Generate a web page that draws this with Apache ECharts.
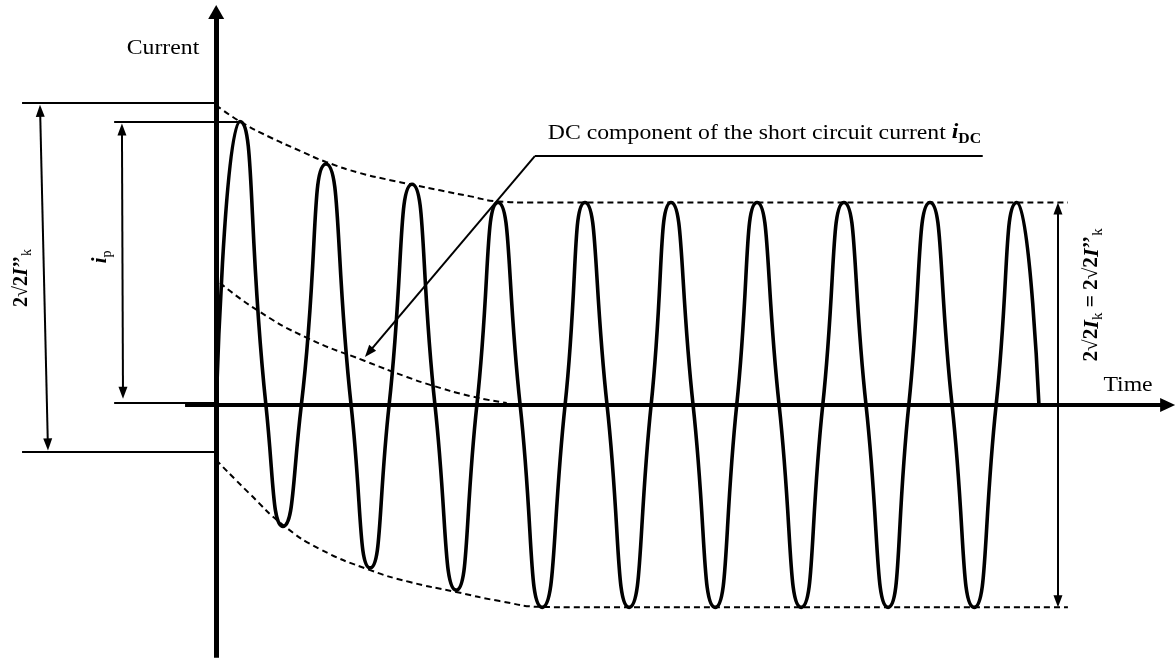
<!DOCTYPE html>
<html>
<head>
<meta charset="utf-8">
<script src="https://cdn.jsdelivr.net/npm/echarts@6/dist/echarts.min.js"></script>
<style>
  html, body { margin: 0; padding: 0; background: #fff; }
  #chart { width: 1176px; height: 662px; }
</style>
</head>
<body>
<div id="chart"></div>
<script>
// Short-circuit current after fault inception.
// Time in ms (50 Hz supply), current in per-unit of the steady-state peak 2√2·Ik.

// Waveform: start, then alternating peaks / zero crossings / troughs
const timeMs = [0, 5.5, 11.5, 15.45, 19.7, 25.4, 31.2, 35.6, 40.0, 45.3, 50.6, 55.5, 60.3,
  65.2, 70.3, 75.4, 80.7, 85.3, 90.4, 95.5, 100.6, 105.2, 110.3, 115.4, 120.4,
  125.1, 130.2, 135.3, 140.3, 145.2, 150.3, 155.4, 160.2, 165.1, 170.2, 175.3, 180.4,
  185.2, 190.3];
const currentPu = [0, 1.40, 0, -0.60, 0, 1.19, 0, -0.805, 0, 1.09, 0, -0.915, 0,
  1.0, 0, -1.0, 0, 1.0, 0, -1.0, 0, 1.0, 0, -1.0, 0,
  1.0, 0, -1.0, 0, 1.0, 0, -1.0, 0, 1.0, 0, -1.0, 0,
  1.0, 0];

// Upper and lower envelopes
const upperEnvT = [0, 5.5, 12.45, 19.4, 25.4, 33.3, 40.3, 45.3, 51.8, 58.8, 65.2, 72.6, 197];
const upperEnvI = [1.48, 1.40, 1.322, 1.255, 1.200, 1.145, 1.11, 1.088, 1.06, 1.03, 1.005, 1.0, 1.0];
const lowerEnvT = [0, 7.8, 15.45, 24.0, 35.6, 44.8, 55.5, 65.6, 75.4, 84.1, 197];
const lowerEnvI = [-0.272, -0.44, -0.593, -0.712, -0.816, -0.875, -0.924, -0.969, -0.998, -1.0, -1.0];

// Decaying DC component i_DC
const dcT = [0.9, 9.4, 21.0, 34.4, 44.1, 49.5, 58.7, 67.2];
const dcI = [0.602, 0.469, 0.331, 0.217, 0.138, 0.099, 0.044, 0.009];

// Reference levels for the dimension arrows
const initialTop = 1.49;        // top of 2√2 I''k span
const initialBottom = -0.233;   // bottom of 2√2 I''k span
const peakIp = currentPu[1];    // peak short-circuit current ip
const steadyPeak = 1.0;         // steady-state peak

const X_MIN = -50, X_MAX = 222, Y_MIN = -1.27, Y_MAX = 2.0;
const W = 1176, H = 662;
const PX_X = W / (X_MAX - X_MIN), PX_Y = H / (Y_MAX - Y_MIN);
const SERIF = '"Liberation Serif", "Times New Roman", serif';
const INK = '#000';

const zip = (xs, ys) => xs.map((x, k) => [x, ys[k]]);

// pull an arrow end inward so the triangle tip lands on the end point
function inset(from, to, pixels) {
  const dx = (to[0] - from[0]) * PX_X, dy = (to[1] - from[1]) * PX_Y;
  const len = Math.hypot(dx, dy) || 1;
  return [to[0] - dx / len * pixels / PX_X, to[1] - dy / len * pixels / PX_Y];
}

// one straight segment for markLine, optional arrow heads
function seg(a, b, width, startArrow, endArrow, arrowSize) {
  const size = arrowSize || [9, 12];
  const half = size[1] / 2;
  const p0 = startArrow ? inset(b, a, half) : a;
  const p1 = endArrow ? inset(a, b, half) : b;
  return [
    { coord: p0, symbol: startArrow ? 'triangle' : 'none', symbolSize: size, lineStyle: { width: width, color: INK, type: 'solid' } },
    { coord: p1, symbol: endArrow ? 'triangle' : 'none', symbolSize: size }
  ];
}

const chart = echarts.init(document.getElementById('chart'), null, { renderer: 'canvas' });

const dashed = { color: INK, width: 2, type: [6, 4] };

const envelope = (name, xs, ys) => ({
  name: name,
  type: 'line',
  data: zip(xs, ys),
  smooth: 0.5,
  showSymbol: false,
  silent: true,
  lineStyle: dashed
});

const option = {
  animation: false,
  backgroundColor: '#fff',
  grid: { left: 0, right: 0, top: 0, bottom: 0, containLabel: false },
  xAxis: { type: 'value', min: X_MIN, max: X_MAX, show: false },
  yAxis: { type: 'value', min: Y_MIN, max: Y_MAX, show: false },
  series: [
    {
      name: 'axes and dimensions',
      type: 'line',
      data: [],
      silent: true,
      markLine: {
        silent: true,
        animation: false,
        label: { show: false },
        emphasis: { disabled: true },
        symbol: ['none', 'none'],
        itemStyle: { color: INK },
        data: [
          // current axis
          seg([0, -1.249], [0, 1.975], 5, false, true, [16, 14]),
          // time axis
          seg([-7.2, 0], [221.8, 0], 4, false, true, [14, 15]),
          // base line under the ip arrow
          seg([-23.6, 0.01], [0, 0.01], 2, false, false),
          // initial peak-to-peak reference lines
          seg([-44.9, initialTop], [0, initialTop], 2, false, false),
          seg([-44.9, initialBottom], [0, initialBottom], 2, false, false),
          // ip level
          seg([-23.6, peakIp], [timeMs[1], peakIp], 2, false, false),
          // 2√2 I''k arrow
          seg([-40.75, initialTop - 0.008], [-38.9, initialBottom + 0.008], 2, true, true),
          // ip arrow
          seg([-21.8, peakIp - 0.01], [-21.55, 0.03], 2, true, true),
          // steady-state peak-to-peak arrow
          seg([194.7, steadyPeak], [194.7, -steadyPeak], 2, true, true),
          // DC component callout
          seg([73.7, 1.229], [177.3, 1.229], 2, false, false),
          seg([73.7, 1.229], [34.4, 0.237], 2, false, true)
        ]
      }
    },
    envelope('upper envelope', upperEnvT, upperEnvI),
    envelope('lower envelope', lowerEnvT, lowerEnvI),
    envelope('i_DC', dcT, dcI),
    {
      name: 'short-circuit current',
      type: 'line',
      data: zip(timeMs, currentPu),
      smooth: 0.6,
      showSymbol: false,
      silent: true,
      lineStyle: { color: INK, width: 3.6 }
    }
  ]
};

chart.setOption(option);

// text labels anchored in data coordinates
const px = (t, i) => chart.convertToPixel({ gridIndex: 0 }, [t, i]);

const rich = {
  n: { fontFamily: SERIF, fontSize: 20, fontWeight: 'bold', fill: INK, verticalAlign: 'middle', lineHeight: 26 },
  r: { fontFamily: SERIF, fontSize: 21, fill: INK, verticalAlign: 'middle', lineHeight: 26 },
  bi: { fontFamily: SERIF, fontSize: 21, fontWeight: 'bold', fontStyle: 'italic', fill: INK, verticalAlign: 'middle', lineHeight: 26 },
  s: { fontFamily: SERIF, fontSize: 14, fill: INK, verticalAlign: 'bottom', lineHeight: 14 },
  sb: { fontFamily: SERIF, fontSize: 14, fontWeight: 'bold', fill: INK, verticalAlign: 'bottom', lineHeight: 14 }
};

function label(t, i, text, opts) {
  const o = opts || {};
  const p = px(t, i);
  return {
    type: 'text',
    x: p[0], y: p[1],
    rotation: o.rotation || 0,
    scaleX: o.scaleX || 1,
    scaleY: o.scaleY || 1,
    silent: true,
    style: {
      text: text,
      rich: rich,
      font: '20px ' + SERIF,
      fill: INK,
      align: o.align || 'center',
      verticalAlign: 'middle'
    }
  };
}

const WIDE = 1.13;  // horizontal labels are set slightly wide
chart.setOption({
  graphic: [
    label(-12.3, 1.76, '{r|Current}', { scaleX: WIDE }),
    label(210.9, 0.094, '{r|Time}', { scaleX: WIDE }),
    label(76.7, 1.343, '{r|DC component of the short circuit current }{bi|i}{sb|DC}', { scaleX: WIDE, align: 'left' }),
    label(-45.0, 0.627, '{n|2√2}{bi|I}{n|’’}{s|k}', { rotation: Math.PI / 2 }),
    label(-26.65, 0.731, '{bi|i}{s|p}', { rotation: Math.PI / 2 }),
    label(202.6, 0.543, '{n|2√2}{bi|I}{s|k}{n| = 2√2}{bi|I}{n|’’}{s|k}', { rotation: Math.PI / 2, scaleX: 1.06 })
  ]
});
</script>
</body>
</html>
